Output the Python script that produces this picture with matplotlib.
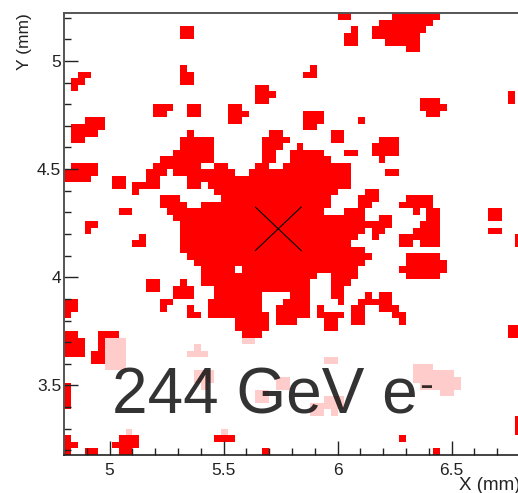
import matplotlib
matplotlib.use('Agg')
import matplotlib.pyplot as plt
import numpy as np
from matplotlib.colors import ListedColormap
from matplotlib.ticker import MultipleLocator

plt.rcParams['font.family'] = ['Liberation Sans', 'DejaVu Sans']

# bin layout of the histogram
x_start = 4.8
y_top = 5.22
bin_size = 0.03
n_bins = 68

# saturated bins: row from the top -> (first column, last column) runs
red_rows = {
    0: [(40, 41), (48, 54)],
    1: [(46, 53)],
    2: [(17, 18), (42, 42), (45, 52)],
    3: [(17, 18), (41, 42), (45, 51)],
    4: [(41, 42), (47, 51)],
    5: [(50, 51)],
    8: [(17, 17), (36, 36)],
    9: [(2, 3), (17, 18), (35, 36)],
    10: [(1, 2), (17, 18)],
    11: [(1, 1), (28, 29)],
    12: [(28, 30), (65, 65)],
    13: [(28, 29), (52, 54), (65, 65)],
    14: [(13, 15), (18, 19), (24, 25), (52, 55)],
    15: [(13, 14), (18, 19), (24, 26), (35, 37), (53, 54)],
    16: [(3, 5), (24, 25), (35, 37), (43, 43)],
    17: [(1, 5), (35, 36)],
    18: [(1, 4), (18, 18), (30, 31), (39, 40)],
    19: [(1, 2), (17, 21), (29, 32), (39, 40), (46, 48)],
    20: [(17, 21), (29, 31), (34, 34), (45, 48)],
    21: [(16, 21), (29, 30), (33, 37), (41, 42), (45, 48)],
    22: [(14, 21), (29, 30), (33, 38), (46, 46)],
    23: [(1, 4), (13, 19), (22, 23), (28, 29), (32, 41)],
    24: [(0, 4), (12, 14), (16, 24), (27, 41), (47, 48)],
    25: [(0, 3), (7, 8), (12, 13), (18, 41)],
    26: [(7, 8), (10, 13), (18, 19), (21, 41)],
    27: [(10, 10), (22, 39), (44, 45)],
    28: [(14, 16), (23, 38), (43, 45), (50, 53)],
    29: [(14, 17), (20, 38), (43, 44), (49, 53)],
    30: [(8, 9), (15, 37), (41, 43), (51, 51), (53, 54), (62, 63)],
    31: [(16, 43), (46, 47), (53, 54), (62, 63)],
    32: [(3, 4), (17, 47), (52, 54)],
    33: [(3, 3), (17, 43), (45, 46), (51, 54), (62, 63)],
    34: [(11, 11), (17, 42), (45, 45), (49, 54), (66, 66)],
    35: [(10, 11), (17, 41), (49, 50), (52, 54), (66, 66)],
    36: [(17, 43)],
    37: [(18, 44), (50, 54)],
    38: [(19, 43), (50, 55)],
    39: [(20, 24), (26, 42), (49, 55)],
    40: [(20, 36), (39, 42), (50, 54)],
    41: [(12, 13), (17, 17), (20, 35), (39, 41)],
    42: [(12, 13), (16, 18), (22, 35), (39, 40)],
    43: [(16, 18), (22, 28), (33, 35), (39, 40), (44, 44), (46, 47)],
    44: [(0, 1), (14, 15), (21, 28), (32, 35), (40, 40), (43, 47)],
    45: [(0, 1), (14, 14), (18, 18), (21, 28), (31, 35), (37, 37), (42, 43), (46, 48)],
    46: [(0, 0), (18, 19), (21, 29), (31, 35), (37, 40), (42, 43), (48, 49)],
    47: [(25, 29), (31, 33), (38, 39), (42, 43), (49, 49)],
    48: [(25, 29), (38, 39), (65, 66)],
    49: [(0, 1), (5, 7), (26, 28), (65, 66)],
    50: [(0, 2), (5, 5)],
    51: [(0, 2), (5, 5)],
    52: [(0, 2), (4, 5)],
    53: [(4, 5)],
    57: [(0, 0)],
    58: [(0, 0)],
    59: [(0, 0)],
    60: [(0, 0)],
    62: [(66, 66)],
    63: [(66, 66)],
    64: [(66, 66)],
    65: [(0, 0), (8, 10), (22, 24), (49, 49)],
    66: [(0, 1), (7, 10)],
    67: [(0, 0), (3, 4), (8, 9), (29, 29), (54, 54)],
}

# faint bins
pink_rows = {
    50: [(26, 27), (6, 8)],
    51: [(6, 8), (19, 19)],
    52: [(6, 8), (18, 20)],
    53: [(6, 8), (38, 39)],
    54: [(6, 8), (51, 53)],
    55: [(19, 21), (51, 56)],
    56: [(19, 21), (31, 32), (51, 57)],
    57: [(20, 20), (31, 32), (52, 57)],
    58: [(28, 29), (55, 56)],
    59: [(28, 29), (38, 40)],
    60: [(36, 40)],
    61: [(36, 37), (39, 39)],
    64: [(9, 9), (23, 23)],
}

x_ticks = [5, 5.5, 6, 6.5]
x_labels = ['5', '5.5', '6', '6.5']
y_ticks = [3.5, 4, 4.5, 5]
y_labels = ['3.5', '4', '4.5', '5']
cross_x = 5.74
cross_y = 4.224

counts = np.zeros((n_bins, n_bins))
for row, runs in pink_rows.items():
    for a, b in runs:
        counts[row, a:b + 1] = 1
for row, runs in red_rows.items():
    for a, b in runs:
        counts[row, a:b + 1] = 2

x_edges = x_start + bin_size * np.arange(n_bins + 1)
y_edges = y_top - bin_size * np.arange(n_bins + 1)

fig = plt.figure(figsize=(5.18, 4.93), dpi=100)
ax = fig.add_axes([64 / 518, 1 - 454.7 / 493, 465 / 518, 441.4 / 493])
cmap = ListedColormap(['#ffffff', '#ffcccc', '#ff0000'])
ax.pcolormesh(x_edges, y_edges, counts, cmap=cmap, vmin=0, vmax=2, rasterized=True)
ax.set_xlim(x_edges[0], x_edges[-1])
ax.set_ylim(y_edges[-1], y_edges[0])

# beam centre cross
ax.plot([cross_x - 0.1, cross_x + 0.1], [cross_y + 0.1, cross_y - 0.1], 'k', lw=0.8)
ax.plot([cross_x - 0.1, cross_x + 0.1], [cross_y - 0.1, cross_y + 0.1], 'k', lw=0.8)

ax.set_xticks(x_ticks, x_labels)
ax.set_yticks(y_ticks, y_labels)
ax.xaxis.set_minor_locator(MultipleLocator(0.1))
ax.yaxis.set_minor_locator(MultipleLocator(0.1))
ax.tick_params(which='major', direction='in', length=10, width=1, labelsize=12.5, colors='#222222')
ax.tick_params(which='minor', direction='in', length=5, width=1, color='#222222')
ax.tick_params(axis='x', which='major', pad=6)
ax.tick_params(axis='y', which='major', pad=2)
for side in ['top', 'left']:
    ax.spines[side].set_color('#555555')
    ax.spines[side].set_linewidth(1.4)
ax.spines['bottom'].set_color('#222222')
ax.spines['bottom'].set_linewidth(1.2)

fig.text(459 / 518, 1 - 486 / 493, 'X (mm)', ha='left', va='center', fontsize=13.5, color='#222222')
fig.text(25 / 518, 1 - 42 / 493, 'Y (mm)', ha='center', va='center', rotation=90, fontsize=12.5, color='#222222')

# black at 80% so the red and pink show through the label
fig.text(112 / 518, 1 - 413 / 493, '244 GeV e', ha='left', va='baseline', fontsize=46, color='k', alpha=0.8)
fig.text(419 / 518, 1 - 398 / 493, '-', ha='left', va='baseline', fontsize=30, color='k', alpha=0.8)

fig.savefig('out.png', dpi=100)
